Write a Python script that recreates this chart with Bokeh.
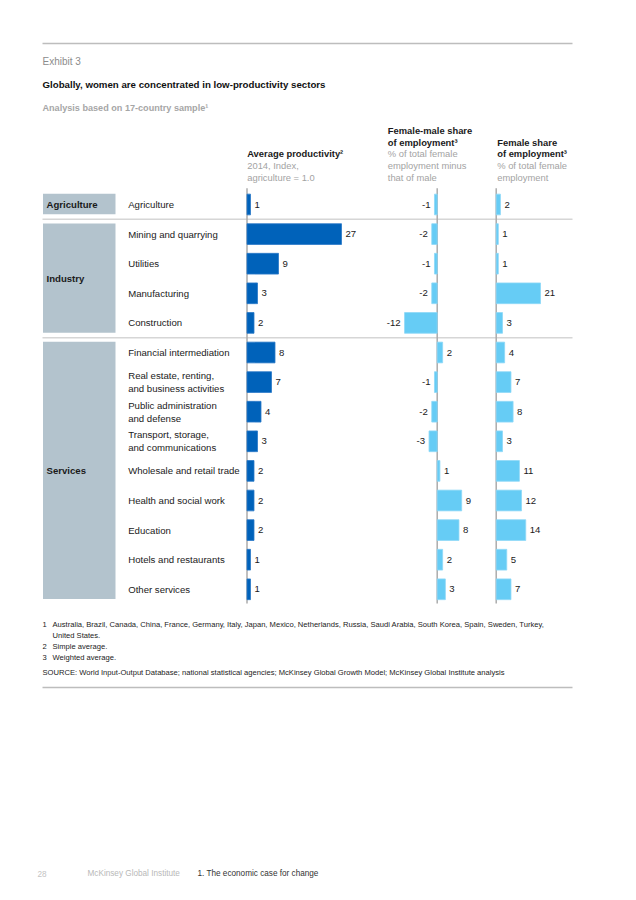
from bokeh.plotting import figure
from bokeh.models import Range1d, ColumnDataSource
from bokeh.core.properties import value
from bokeh.embed import file_html
from bokeh.resources import INLINE

# ---------------- data ----------------
groups = ["Agriculture", "Industry", "Services"]
sectors = [
    "Agriculture",
    "Mining and quarrying",
    "Utilities",
    "Manufacturing",
    "Construction",
    "Financial intermediation",
    "Real estate, renting,\nand business activities",
    "Public administration\nand defense",
    "Transport, storage,\nand communications",
    "Wholesale and retail trade",
    "Health and social work",
    "Education",
    "Hotels and restaurants",
    "Other services",
]
sector_group = ["Agriculture"] + ["Industry"] * 4 + ["Services"] * 9
productivity = [1, 27, 9, 3, 2, 8, 7, 4, 3, 2, 2, 2, 1, 1]
female_male_diff = [-1, -2, -1, -2, -12, 2, -1, -2, -3, 1, 9, 8, 2, 3]
female_share = [2, 1, 1, 21, 3, 4, 7, 8, 3, 11, 12, 14, 5, 7]

footnotes = [
    ("1", "Australia, Brazil, Canada, China, France, Germany, Italy,  Japan, Mexico, Netherlands, Russia, Saudi Arabia, South Korea, Spain, Sweden, Turkey,"),
    ("", "United States."),
    ("2", "Simple average."),
    ("3", "Weighted average."),
]
source_note = "SOURCE:  World Input-Output Database; national statistical agencies; McKinsey Global Growth Model; McKinsey Global Institute analysis"

# ---------------- style ----------------
FONT = value("Liberation Sans")
DARK = "#0062BA"
LIGHT = "#66CCF5"
BOX = "#B3C3CD"
GREY_TXT = "#A3A3A3"
AXIS_GREY = "#ABABAB"
SEP = "#D6D6D6"
L = 42

W, H = 620, 884
p = figure(width=W, height=H, x_range=Range1d(0, W), y_range=Range1d(H, 0),
           output_backend="svg", toolbar_location=None, min_border=0,
           x_axis_location=None, y_axis_location=None)
p.grid.visible = False
p.outline_line_color = None
p.background_fill_color = "white"


def lin_range(base_px, px_per_unit, lo=0, hi=W):
    return Range1d((lo - base_px) / px_per_unit, (hi - base_px) / px_per_unit)


row0, row_step = 204.0, 29.6
p.extra_x_ranges = {
    "prod": lin_range(246.5, 3.5),
    "fm": lin_range(436.7, 2.72),
    "fs": lin_range(495.7, 2.11),
}
p.extra_y_ranges = {"rows": Range1d((H - row0) / row_step, (0 - row0) / row_step)}

rows = list(range(len(sectors)))

# ---------------- group boxes & separators ----------------
g_first = [sector_group.index(g) for g in groups]
g_last = [len(sector_group) - 1 - sector_group[::-1].index(g) for g in groups]
p.quad(left=42.5, right=115, top=[f - 0.36 for f in g_first], bottom=[l + 0.33 for l in g_last],
       y_range_name="rows", fill_color=BOX, line_color=None)
p.text(x=46, y=[(f + l) / 2 for f, l in zip(g_first, g_last)], text=groups, y_range_name="rows",
       text_font=FONT, text_font_size="9.6px", text_font_style="bold", text_color="#1a1a1a",
       text_baseline="middle", text_align="left")
p.segment(x0=L, x1=572, y0=[f - 0.5 for f in g_first[1:]], y1=[f - 0.5 for f in g_first[1:]],
          y_range_name="rows", line_color=SEP, line_width=1.5)

# sector labels
p.text(x=127.7, y=rows, text=sectors, y_range_name="rows", text_font=FONT, text_font_size="9.6px",
       text_color="#1a1a1a", text_baseline="middle", text_align="left", text_line_height=1.15)

# ---------------- bars ----------------
src = ColumnDataSource(dict(row=rows, prod=productivity, fm=female_male_diff, fs=female_share,
                            prod_l=[str(v) for v in productivity],
                            fs_l=[str(v) for v in female_share]))

for rng in ["prod", "fm", "fs"]:
    p.segment(x0=0, x1=0, y0=-0.55, y1=len(sectors) - 0.52, x_range_name=rng, y_range_name="rows",
              line_color=AXIS_GREY, line_width=1.5)

p.hbar(y="row", left=0, right="prod", height=0.7, source=src, x_range_name="prod", y_range_name="rows",
       fill_color=DARK, line_color="#2A78C8", line_width=0.8)
p.hbar(y="row", left=0, right="fm", height=0.7, source=src, x_range_name="fm", y_range_name="rows",
       fill_color=LIGHT, line_color="#8ED8F7", line_width=0.8)
p.hbar(y="row", left=0, right="fs", height=0.7, source=src, x_range_name="fs", y_range_name="rows",
       fill_color=LIGHT, line_color="#8ED8F7", line_width=0.8)

lab = dict(text_font=FONT, text_font_size="9.6px", text_color="#1a1a1a", text_baseline="middle",
           y_range_name="rows")
p.text(x="prod", y="row", text="prod_l", source=src, x_range_name="prod", x_offset=4, text_align="left", **lab)
p.text(x="fs", y="row", text="fs_l", source=src, x_range_name="fs", x_offset=4, text_align="left", **lab)
pos = [(r, v) for r, v in zip(rows, female_male_diff) if v >= 0]
neg = [(r, v) for r, v in zip(rows, female_male_diff) if v < 0]
p.text(x=[v for _, v in pos], y=[r for r, _ in pos], text=[str(v) for _, v in pos], x_range_name="fm",
       x_offset=4, text_align="left", **lab)
p.text(x=[v for _, v in neg], y=[r for r, _ in neg], text=[str(v) for _, v in neg], x_range_name="fm",
       x_offset=-4, text_align="right", **lab)

# ---------------- headers ----------------
def t(x, y, s, size="9.4px", style="normal", color="#1a1a1a"):
    p.text(x=[x], y=[y], text=[s], text_font=FONT, text_font_size=size, text_font_style=style,
           text_color=color, text_baseline="middle", text_align="left")

p.segment(x0=[L, L], x1=[572, 572], y0=[43, 687], y1=[43, 687], line_color="#BDBDBD", line_width=1.5)
t(L, 61, "Exhibit 3", "10px", "normal", "#8C8C8C")
t(L, 84, "Globally, women are concentrated in low-productivity sectors", "9.7px", "bold", "#111111")
t(L, 107, "Analysis based on 17-country sample\u00b9", "9.1px", "bold", "#A6A6A6")

t(246.7, 153.3, "Average productivity\u00b2", style="bold")
t(246.7, 165, "2014, Index,", color=GREY_TXT)
t(246.7, 176.7, "agriculture = 1.0", color=GREY_TXT)

t(387.3, 130, "Female-male share", style="bold")
t(387.3, 141.7, "of employment\u00b3", style="bold")
t(387.3, 153.3, "% of total female", color=GREY_TXT)
t(387.3, 165, "employment minus", color=GREY_TXT)
t(387.3, 176.7, "that of male", color=GREY_TXT)

t(496.7, 141.7, "Female share", style="bold")
t(496.7, 153.3, "of employment\u00b3", style="bold")
t(496.7, 165, "% of total female", color=GREY_TXT)
t(496.7, 176.7, "employment", color=GREY_TXT)

# ---------------- footnotes ----------------
fy = 624
for num, txt in footnotes:
    if num:
        t(L, fy, num, "7.6px", color="#222222")
    t(L + 10, fy, txt, "7.6px", color="#222222")
    fy += 11
t(L, 672, source_note, "7.6px", color="#222222")

# footer
t(37, 873, "28", "8.2px", color="#C4C4C4")
t(87, 873, "McKinsey Global Institute", "8.2px", color="#B8B8B8")
t(197, 873, "1. The economic case for change", "8.2px", color="#333333")

open("out.html", "w").write(file_html(p, INLINE))
